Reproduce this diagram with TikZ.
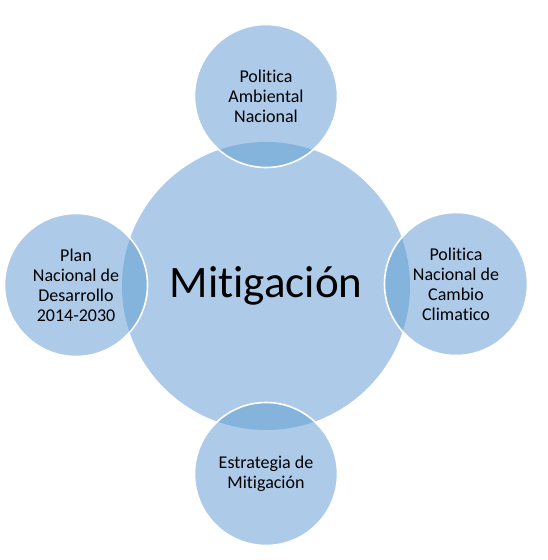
\documentclass[tikz,border=0pt]{standalone}
\usepackage{fontspec}
\setmainfont{Carlito}[Ligatures=NoCommon]
\definecolor{lightblue}{HTML}{ADCBE9}
\definecolor{darkblue}{HTML}{84B3DC}
\tikzset{
  bigc/.style={circle, fill=lightblue, minimum size=288pt, inner sep=0pt},
  smallc/.style={circle, fill=lightblue, minimum size=143pt, inner sep=0pt},
  ring/.style={draw=white, line width=1.6pt},
  label/.style={align=center, inner sep=0pt, font=\fontsize{18}{20}\selectfont},
}
\begin{document}
\begin{tikzpicture}[x=1pt,y=-1pt]
\useasboundingbox (0,0) rectangle (548,560);
\fill[white] (0,0) rectangle (548,560);
\node[bigc] (big) at (266,286) {};
\node[smallc] (top) at (266,96) {};
\node[smallc] (left) at (76,285) {};
\node[smallc] (right) at (456,284) {};
\node[smallc] (bottom) at (266,474) {};
% overlaps
\foreach \p in {{(266,96)},{(76,285)},{(456,284)},{(266,474)}}{
  \begin{scope}
    \clip (266,286) circle (144);
    \fill[darkblue] \p circle (71.5);
  \end{scope}
}
\foreach \n in {top,left,right,bottom}{
  \draw[ring] (\n) circle (71.5);
}
\node[font=\fontsize{45}{54}\selectfont] (mit) at (big) {Mitigación};
\node[label] (ttop) at (top) {Politica\\Ambiental\\Nacional};
\node[label] (tleft) at (left) {Plan\\Nacional de\\Desarrollo\\2014-2030};
\node[label] (tright) at (right) {Politica\\Nacional de\\Cambio\\Climatico};
\node[label] (tbottom) at (bottom) {Estrategia de\\Mitigación};
\end{tikzpicture}
\end{document}
